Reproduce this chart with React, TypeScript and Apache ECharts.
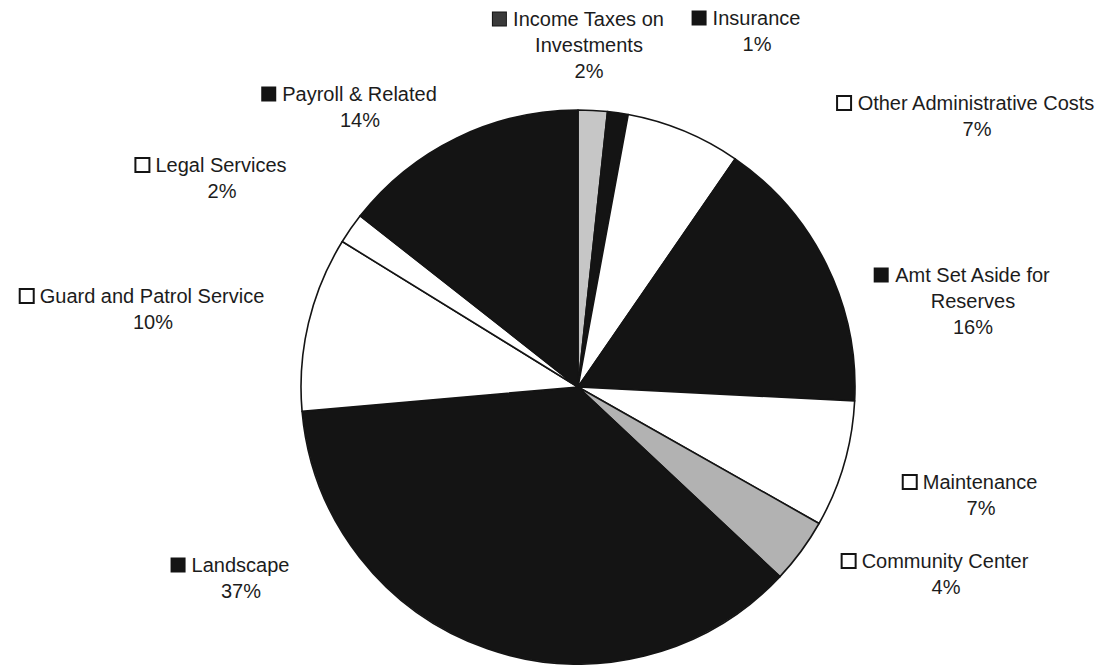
import React, { useEffect, useRef } from "react";
import * as echarts from "echarts";

// ---- data ----
const categories: string[] = [
  "Income Taxes on Investments",
  "Insurance",
  "Other Administrative Costs",
  "Amt Set Aside for Reserves",
  "Maintenance",
  "Community Center",
  "Landscape",
  "Guard and Patrol Service",
  "Legal Services",
  "Payroll & Related",
];
// estimated shares (percent of total), shown rounded on the labels
const shares: number[] = [1.7, 1.2, 6.7, 16.2, 7.4, 3.8, 36.6, 10.2, 1.8, 14.4];

// ---- styling / layout (not data) ----
const fillKind: string[] = ["hatch", "black", "white", "black", "white", "dither", "black", "white", "white", "black"];
const fillColor: Record<string, string> = {
  black: "#141414",
  white: "#ffffff",
  hatch: "#c6c6c6",
  dither: "#b2b2b2",
};
const keyStyle: Record<string, string> = { black: "bk", white: "wh", hatch: "ht", dither: "wh" };
// label block centres (px, chart coords)
const labelPos: number[][] = [
  [589, 45],
  [757, 31],
  [977, 116],
  [973, 301],
  [981, 495],
  [946, 574],
  [241, 578],
  [153, 309],
  [222, 178],
  [360, 107],
];

function wrapName(n: string): string {
  return n.replace("Taxes on ", "Taxes on\n").replace("Aside for ", "Aside for\n");
}

export default function App() {
  const ref = useRef<HTMLDivElement>(null);
  useEffect(() => {
    if (!ref.current) return;
    const chart = echarts.init(ref.current, undefined, { renderer: "svg" });
    const data = categories.map((name, i) => ({
      name,
      value: shares[i],
      itemStyle: { color: fillColor[fillKind[i]] },
      label: {
        formatter: (p: any) => {
          const lines = wrapName(p.name).split("\n");
          const first = `{${keyStyle[fillKind[i]]}|}{gap|}${lines[0]}{gap|}{pad|}`;
          const rest = lines.slice(1);
          return [first, ...rest, `${Math.round(p.percent)}%`].join("\n");
        },
      },
    }));
    chart.setOption({
      animation: false,
      backgroundColor: "#ffffff",
      series: [
        {
          type: "pie",
          center: [578, 387],
          radius: 277,
          startAngle: 90,
          clockwise: true,
          avoidLabelOverlap: false,
          data,
          itemStyle: { borderColor: "#141414", borderWidth: 1.6 },
          emphasis: { disabled: true },
          labelLine: { show: false },
          label: {
            show: true,
            position: "outside",
            fontFamily: "'Liberation Sans', Arial, sans-serif",
            fontSize: 20,
            lineHeight: 26,
            color: "#1c1c1c",
            align: "center",
            rich: {
              bk: { width: 13, height: 13, backgroundColor: "#141414", borderColor: "#141414", borderWidth: 1, verticalAlign: "middle" },
              wh: { width: 12, height: 12, backgroundColor: "#ffffff", borderColor: "#141414", borderWidth: 2, verticalAlign: "middle" },
              ht: { width: 13, height: 13, backgroundColor: "#3a3a3a", borderColor: "#141414", borderWidth: 1, verticalAlign: "middle" },
              gap: { width: 7 },
              pad: { width: 14 },
            },
          },
          labelLayout: (params: any) => {
            const p = labelPos[params.dataIndex];
            return { x: p[0], y: p[1], align: "center", verticalAlign: "middle" };
          },
        },
      ],
    });
    return () => chart.dispose();
  }, []);
  return (
    <div
      ref={ref}
      style={{ position: "fixed", left: 0, top: 0, width: 1110, height: 665, background: "#fff" }}
    />
  );
}
